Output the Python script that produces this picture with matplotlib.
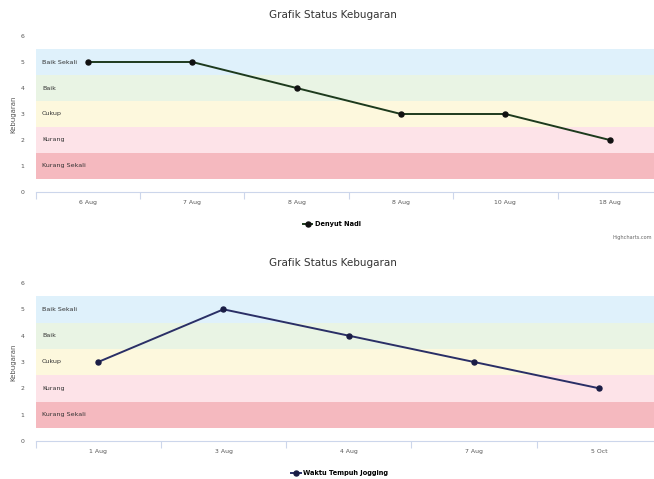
import numpy as np
import matplotlib
matplotlib.use("Agg")
import matplotlib.pyplot as plt

# data
title = "Grafik Status Kebugaran"
band_names = ["Kurang Sekali", "Kurang", "Cukup", "Baik", "Baik Sekali"]
band_lo = [0.5, 1.5, 2.5, 3.5, 4.5]
band_hi = [1.5, 2.5, 3.5, 4.5, 5.5]
band_colors = ["#f5b9bf", "#fde3e8", "#fdf8dd", "#e9f4e4", "#dff1fb"]

nadi_dates = ["6 Aug", "7 Aug", "8 Aug", "8 Aug", "10 Aug", "18 Aug"]
nadi_vals = [5, 5, 4, 3, 3, 2]

jog_dates = ["1 Aug", "3 Aug", "4 Aug", "7 Aug", "5 Oct"]
jog_vals = [3, 5, 4, 3, 2]

W, H = 654, 479
fig = plt.figure(figsize=(W/100, H/100), dpi=100)
plt.rcParams['font.family'] = ['DejaVu Sans']


def px(x0, y_top, x1, y_bot):
    # pixel box -> figure fraction rect
    return [x0/W, 1 - y_bot/H, (x1-x0)/W, (y_bot-y_top)/H]


def draw(rect, dates, vals, color, mcolor, name, title_y, leg_xy):
    ax = fig.add_axes(rect)
    n = len(dates)
    for lo, hi, c, nm in zip(band_lo, band_hi, band_colors, band_names):
        ax.axhspan(lo, hi, color=c, lw=0, zorder=0)
        ax.text(0.0105, (lo+hi)/2, nm, transform=ax.get_yaxis_transform(),
                fontsize=4.6, color="#333333", va="center", ha="left")
    ln, = ax.plot(range(n), vals, color=color, lw=1.4, marker="o", ms=3.6,
                  mfc=mcolor, mec=mcolor, zorder=3, label=name)
    ax.set_xlim(-0.5, n-0.5)
    ax.set_ylim(0, 6)
    ax.set_xticks(range(n))
    ax.set_xticklabels(dates, fontsize=4.4, color="#555555")
    ax.set_xticks(np.arange(-0.5, n, 1), minor=True)
    ax.tick_params(axis="x", which="major", length=0, pad=6)
    ax.tick_params(axis="x", which="minor", length=5, color="#ccd6eb", width=0.8)
    ax.set_yticks(range(7))
    ax.tick_params(axis="y", length=0, labelsize=4.4, labelcolor="#555555", pad=8)
    for s in ["top", "right", "left"]:
        ax.spines[s].set_visible(False)
    ax.spines["bottom"].set_color("#ccd6eb")
    ax.spines["bottom"].set_linewidth(0.8)
    ax.set_ylabel("Kebugaran", fontsize=5, color="#555555", labelpad=3)
    fig.text(333/W, 1 - title_y/H, title, fontsize=7.5, color="#333333",
             ha="center", va="center")
    fig.legend(handles=[ln], loc="center", bbox_to_anchor=(leg_xy[0]/W, 1 - leg_xy[1]/H),
               frameon=False, prop={"size": 4.8, "weight": "bold"},
               handlelength=1.4, handletextpad=0.4)
    return ax


draw(px(35.5, 36, 662, 192), nadi_dates, nadi_vals, "#1d3a1d", "#111111",
     "Denyut Nadi", 15, (332, 224))
draw(px(35.5, 283, 662, 441), jog_dates, jog_vals, "#2a2f66", "#1a1d45",
     "Waktu Tempuh Jogging", 263, (340, 473))

fig.text(652/W, 1 - 238/H, "Highcharts.com", fontsize=3.6, color="#666666",
         ha="right", va="center")

fig.savefig("out.png", dpi=100)
